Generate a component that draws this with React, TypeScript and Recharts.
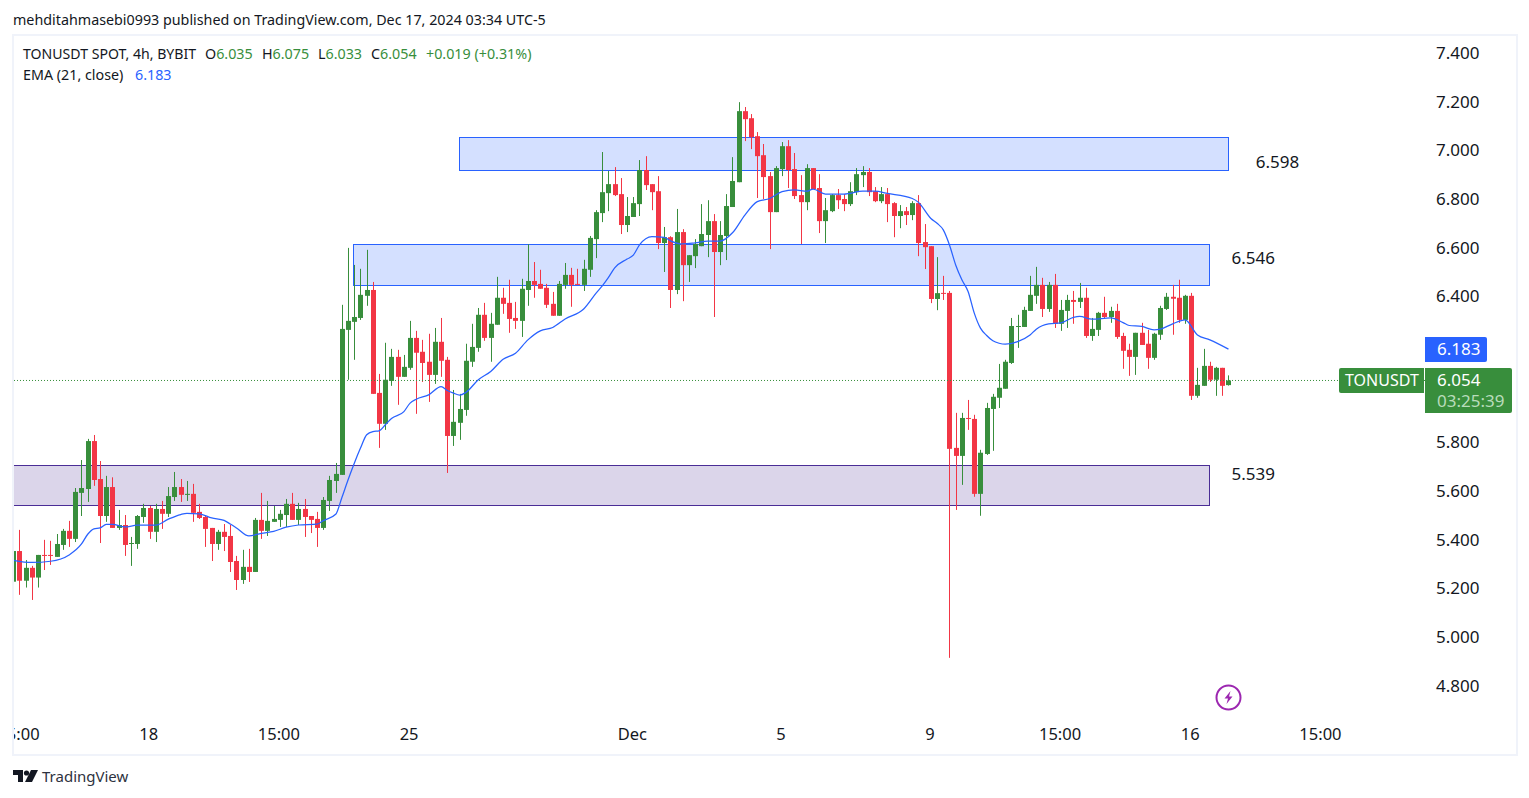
import { ComposedChart, Bar, Line, XAxis, YAxis, ReferenceArea, ReferenceLine, ReferenceDot } from 'recharts'

const FONT = '"Noto Sans", sans-serif'
const UP = '#388e3c'
const DOWN = '#f23645'
const BLUE = '#2962ff'
const PURPLE = '#4a2d96'

const opens = [
  5.227, 5.353, 5.231, 5.284, 5.244, 5.337, 5.337, 5.329, 5.378, 5.436,
  5.403, 5.592, 5.608, 5.805, 5.649, 5.497, 5.616, 5.448, 5.460, 5.384,
  5.382, 5.493, 5.530, 5.432, 5.526, 5.506, 5.575, 5.616, 5.584, 5.588,
  5.514, 5.493, 5.448, 5.382, 5.432, 5.415, 5.312, 5.234, 5.288, 5.267,
  5.481, 5.436, 5.473, 5.481, 5.501, 5.547, 5.481, 5.526, 5.497, 5.485,
  5.448, 5.559, 5.641, 5.666, 6.262, 6.295, 6.311, 6.402, 6.426, 6.003,
  5.876, 6.052, 6.151, 6.069, 6.106, 6.229, 6.172, 6.131, 6.077, 6.213,
  6.139, 5.826, 5.880, 5.933, 6.131, 6.188, 6.324, 6.229, 6.283, 6.394,
  6.373, 6.311, 6.299, 6.426, 6.463, 6.451, 6.435, 6.369, 6.320, 6.447,
  6.488, 6.451, 6.447, 6.509, 6.635, 6.742, 6.824, 6.861, 6.820, 6.693,
  6.726, 6.779, 6.919, 6.861, 6.832, 6.619, 6.643, 6.426, 6.664, 6.528,
  6.565, 6.606, 6.652, 6.709, 6.582, 6.648, 6.767, 6.869, 7.161, 7.132,
  7.058, 6.980, 6.894, 6.746, 6.923, 7.017, 6.923, 6.816, 6.787, 6.927,
  6.845, 6.709, 6.750, 6.816, 6.800, 6.779, 6.828, 6.898, 6.911, 6.832,
  6.791, 6.820, 6.783, 6.730, 6.750, 6.734, 6.783, 6.623, 6.606, 6.389,
  6.414, 6.414, 5.777, 5.744, 5.900, 5.896, 5.588, 5.752, 5.937, 5.983,
  6.020, 6.126, 6.274, 6.274, 6.340, 6.402, 6.447, 6.348, 6.447, 6.287,
  6.340, 6.385, 6.377, 6.394, 6.237, 6.262, 6.332, 6.315, 6.340, 6.237,
  6.180, 6.151, 6.250, 6.205, 6.147, 6.242, 6.348, 6.398, 6.394, 6.303,
  6.402, 5.991, 6.032, 6.114, 6.057, 6.106, 6.035,
]
const highs = [
  5.353, 5.440, 5.316, 5.292, 5.337, 5.399, 5.395, 5.423, 5.444, 5.477,
  5.612, 5.727, 5.814, 5.830, 5.723, 5.662, 5.656, 5.522, 5.501, 5.411,
  5.501, 5.547, 5.538, 5.547, 5.559, 5.616, 5.678, 5.649, 5.641, 5.629,
  5.547, 5.501, 5.448, 5.440, 5.464, 5.460, 5.333, 5.358, 5.362, 5.489,
  5.592, 5.559, 5.538, 5.522, 5.567, 5.592, 5.551, 5.567, 5.497, 5.514,
  5.575, 5.662, 5.715, 6.365, 6.599, 6.529, 6.513, 6.591, 6.459, 6.081,
  6.209, 6.184, 6.180, 6.159, 6.299, 6.258, 6.221, 6.246, 6.270, 6.311,
  6.151, 6.015, 5.999, 6.205, 6.287, 6.352, 6.373, 6.332, 6.480, 6.435,
  6.468, 6.377, 6.472, 6.614, 6.541, 6.509, 6.451, 6.418, 6.463, 6.537,
  6.517, 6.513, 6.550, 6.648, 6.754, 6.993, 6.915, 6.931, 6.886, 6.808,
  6.808, 6.960, 6.976, 6.861, 6.894, 6.685, 6.647, 6.759, 6.676, 6.569,
  6.635, 6.779, 6.795, 6.738, 6.709, 6.820, 6.972, 7.198, 7.178, 7.149,
  7.075, 7.026, 6.911, 6.935, 7.034, 7.042, 6.989, 6.898, 6.943, 6.927,
  6.902, 6.804, 6.820, 6.841, 6.820, 6.869, 6.927, 6.935, 6.927, 6.849,
  6.849, 6.845, 6.787, 6.775, 6.767, 6.791, 6.816, 6.697, 6.606, 6.561,
  6.484, 6.422, 5.921, 5.921, 5.974, 5.913, 5.769, 5.962, 5.999, 6.122,
  6.139, 6.311, 6.324, 6.357, 6.484, 6.521, 6.476, 6.459, 6.492, 6.385,
  6.406, 6.422, 6.455, 6.435, 6.311, 6.336, 6.398, 6.357, 6.369, 6.250,
  6.205, 6.250, 6.291, 6.262, 6.250, 6.361, 6.414, 6.447, 6.468, 6.406,
  6.414, 6.106, 6.184, 6.131, 6.110, 6.106, 6.075,
]
const lows = [
  5.227, 5.173, 5.203, 5.152, 5.203, 5.275, 5.296, 5.329, 5.358, 5.370,
  5.390, 5.497, 5.555, 5.621, 5.386, 5.473, 5.448, 5.440, 5.333, 5.292,
  5.362, 5.469, 5.403, 5.390, 5.444, 5.493, 5.559, 5.555, 5.559, 5.473,
  5.485, 5.370, 5.312, 5.358, 5.353, 5.267, 5.193, 5.218, 5.226, 5.267,
  5.403, 5.415, 5.473, 5.452, 5.452, 5.481, 5.460, 5.411, 5.427, 5.370,
  5.440, 5.518, 5.592, 5.666, 6.057, 6.139, 6.303, 6.361, 5.999, 5.777,
  5.851, 6.032, 5.954, 6.069, 6.098, 5.917, 6.048, 5.966, 6.040, 6.069,
  5.674, 5.785, 5.810, 5.909, 6.110, 6.172, 6.217, 6.131, 6.283, 6.328,
  6.250, 6.266, 6.233, 6.361, 6.394, 6.431, 6.352, 6.320, 6.320, 6.431,
  6.357, 6.447, 6.422, 6.480, 6.557, 6.705, 6.750, 6.812, 6.656, 6.664,
  6.726, 6.730, 6.837, 6.754, 6.594, 6.500, 6.352, 6.409, 6.380, 6.459,
  6.516, 6.606, 6.561, 6.315, 6.528, 6.549, 6.767, 6.869, 7.038, 7.005,
  6.804, 6.800, 6.594, 6.746, 6.894, 6.845, 6.800, 6.615, 6.754, 6.841,
  6.660, 6.619, 6.746, 6.759, 6.750, 6.771, 6.816, 6.849, 6.812, 6.787,
  6.783, 6.705, 6.643, 6.680, 6.693, 6.713, 6.565, 6.512, 6.372, 6.343,
  6.385, 4.914, 5.522, 5.625, 5.851, 5.576, 5.498, 5.748, 5.765, 5.941,
  6.020, 6.122, 6.188, 6.274, 6.340, 6.369, 6.315, 6.336, 6.270, 6.258,
  6.270, 6.287, 6.352, 6.229, 6.217, 6.237, 6.307, 6.291, 6.225, 6.102,
  6.073, 6.077, 6.200, 6.102, 6.139, 6.221, 6.344, 6.242, 6.291, 6.287,
  5.974, 5.983, 6.032, 6.048, 5.991, 5.991, 6.033,
]
const closes = [
  5.353, 5.231, 5.284, 5.244, 5.337, 5.334, 5.334, 5.382, 5.436, 5.403,
  5.596, 5.612, 5.805, 5.645, 5.497, 5.616, 5.448, 5.460, 5.378, 5.386,
  5.497, 5.530, 5.432, 5.526, 5.506, 5.579, 5.616, 5.584, 5.588, 5.510,
  5.489, 5.444, 5.382, 5.432, 5.411, 5.308, 5.234, 5.288, 5.267, 5.481,
  5.436, 5.477, 5.485, 5.506, 5.547, 5.481, 5.526, 5.493, 5.481, 5.448,
  5.563, 5.645, 5.670, 6.266, 6.299, 6.315, 6.406, 6.426, 5.999, 5.876,
  6.057, 6.151, 6.069, 6.110, 6.229, 6.168, 6.126, 6.077, 6.213, 6.135,
  5.826, 5.884, 5.937, 6.135, 6.192, 6.324, 6.229, 6.287, 6.394, 6.369,
  6.307, 6.299, 6.431, 6.463, 6.447, 6.431, 6.365, 6.320, 6.451, 6.488,
  6.447, 6.447, 6.513, 6.640, 6.746, 6.828, 6.861, 6.816, 6.693, 6.730,
  6.783, 6.919, 6.857, 6.828, 6.619, 6.643, 6.426, 6.664, 6.528, 6.569,
  6.615, 6.656, 6.709, 6.582, 6.652, 6.771, 6.874, 7.161, 7.128, 7.054,
  6.976, 6.890, 6.746, 6.927, 7.017, 6.919, 6.812, 6.787, 6.927, 6.841,
  6.709, 6.754, 6.816, 6.795, 6.779, 6.832, 6.902, 6.911, 6.828, 6.791,
  6.820, 6.779, 6.730, 6.750, 6.734, 6.783, 6.619, 6.602, 6.389, 6.413,
  6.411, 5.773, 5.744, 5.900, 5.896, 5.588, 5.757, 5.941, 5.987, 6.024,
  6.131, 6.278, 6.278, 6.344, 6.406, 6.447, 6.348, 6.447, 6.287, 6.344,
  6.385, 6.377, 6.394, 6.237, 6.266, 6.332, 6.315, 6.340, 6.233, 6.176,
  6.151, 6.250, 6.200, 6.147, 6.246, 6.352, 6.398, 6.390, 6.303, 6.402,
  5.991, 6.036, 6.114, 6.057, 6.106, 6.032, 6.054,
]

// EMA at these candles, the line runs between them
const emaCandles = [
  0, 3, 6, 9, 11, 12, 13, 14, 15, 16, 18, 20, 23, 25, 27, 28, 30, 32, 34, 35, 36, 38, 40, 42, 44, 46, 49, 50, 52, 53,
  54, 55, 56, 57, 58, 59, 60, 61, 63, 64, 65, 67, 69, 70, 71, 72, 73, 75, 77, 79, 81, 83, 85, 87, 89, 92, 94,
  95, 96, 97, 99, 100, 101, 103, 105, 106, 108, 110, 112, 114, 116, 118, 120, 122, 124, 126, 128, 129, 131, 134, 137, 139, 141, 145, 146, 148, 149,
  150, 151, 152, 153, 154, 155, 156, 157, 158, 159, 160, 162, 164, 165, 167, 169, 171, 172, 174, 177, 179, 180, 182, 184, 185, 187, 189, 191, 193, 196,
]
const emaValues = [
  5.315, 5.306, 5.311, 5.337, 5.382, 5.422, 5.444, 5.448, 5.463, 5.463, 5.452, 5.459, 5.460, 5.484, 5.503, 5.508, 5.506, 5.489, 5.479, 5.464, 5.448, 5.415, 5.426, 5.434, 5.451, 5.460, 5.464, 5.478, 5.504, 5.573,
  5.646, 5.714, 5.776, 5.831, 5.844, 5.847, 5.872, 5.898, 5.926, 5.961, 5.977, 5.995, 6.029, 6.013, 6.002, 5.994, 6.005, 6.057, 6.091, 6.141, 6.166, 6.221, 6.258, 6.272, 6.307, 6.348, 6.413,
  6.443, 6.478, 6.517, 6.553, 6.569, 6.611, 6.645, 6.642, 6.628, 6.615, 6.620, 6.627, 6.627, 6.661, 6.734, 6.789, 6.802, 6.830, 6.837, 6.832, 6.841, 6.820, 6.820, 6.832, 6.832, 6.823, 6.802, 6.786, 6.720, 6.700,
  6.673, 6.611, 6.529, 6.468, 6.420, 6.331, 6.269, 6.239, 6.217, 6.207, 6.203, 6.214, 6.241, 6.265, 6.287, 6.291, 6.313, 6.317, 6.306, 6.311, 6.292, 6.280, 6.276, 6.262, 6.265, 6.287, 6.303, 6.241, 6.221, 6.183,
]

// 6.000 and 6.200 sit under the price tags, so they are not drawn
const priceTicks = [4.8, 5, 5.2, 5.4, 5.6, 5.8, 6.4, 6.6, 6.8, 7, 7.2, 7.4]
const timeTickCandles = [1, 22, 43, 64, 100, 124, 148, 169, 190, 211]
const timeTickLabels = ['15:00', '18', '15:00', '25', 'Dec', '5', '9', '15:00', '16', '15:00']

const lastPrice = 6.054

const table = opens.map((open, i) => {
  const at = emaCandles.indexOf(i)
  return {
    i,
    open,
    high: highs[i],
    low: lows[i],
    close: closes[i],
    range: [lows[i], highs[i]],
    ema: at >= 0 ? emaValues[at] : null,
  }
})

function Candle(props: any) {
  const { x, y, width, height, payload } = props
  const top = Math.min(y, y + height)
  const h = Math.abs(height)
  const perPrice = h / (payload.high - payload.low || 1)
  const bodyTop = top + (payload.high - Math.max(payload.open, payload.close)) * perPrice
  const bodyH = Math.max(1, Math.abs(payload.open - payload.close) * perPrice)
  const color = payload.close >= payload.open ? UP : DOWN
  const left = Math.round(x)
  return (
    <g>
      <rect x={left + 2} y={top} width={1} height={h} fill={color} />
      <rect x={left} y={bodyTop} width={width} height={bodyH} fill={color} />
    </g>
  )
}

function Txt({ x, y, color = '#131722', size = 14.3, children }: any) {
  return (
    <div style={{ position: 'absolute', left: x, top: y, color, fontSize: size, fontFamily: FONT, lineHeight: '20px', whiteSpace: 'nowrap' }}>
      {children}
    </div>
  )
}

const zoneLabel = (value: string) => ({ value, fill: '#131722', fontSize: 17, fontFamily: FONT })

export default function App() {
  return (
    <div style={{ position: 'absolute', left: 0, top: 0, width: 1529, height: 798, background: '#fff', overflow: 'hidden' }}>
      <div style={{ position: 'absolute', left: 0, top: 0 }}>
        <ComposedChart width={1529} height={798} data={table} margin={{ top: 35, right: 14, bottom: 45, left: 13 }}>
          <XAxis
            dataKey="i"
            type="number"
            domain={[-0.05, 227.7]}
            allowDataOverflow
            ticks={timeTickCandles}
            interval={0}
            tickFormatter={(v: number) => timeTickLabels[timeTickCandles.indexOf(v)]}
            tick={{ fontSize: 16.5, fill: '#131722', fontFamily: FONT, dx: -1 }}
            tickLine={false}
            axisLine={false}
            height={40}
            tickMargin={9}
          />
          <YAxis
            orientation="right"
            domain={[4.6873, 7.474]}
            allowDataOverflow
            ticks={priceTicks}
            interval={0}
            tickFormatter={(v: number) => v.toFixed(3)}
            tick={{ fontSize: 17, fill: '#131722', fontFamily: FONT }}
            tickLine={false}
            axisLine={false}
            width={90}
            tickMargin={5}
          />
          <ReferenceArea x1={71.9} x2={195.95} y1={6.917} y2={7.054} fill={BLUE} fillOpacity={0.2} stroke={BLUE} strokeOpacity={1} shapeRendering="crispEdges" />
          <ReferenceArea x1={54.85} x2={192.9} y1={6.4444} y2={6.613} fill={BLUE} fillOpacity={0.2} stroke={BLUE} strokeOpacity={1} shapeRendering="crispEdges" />
          <ReferenceArea x1={-0.15} x2={192.9} y1={5.5422} y2={5.7066} fill={PURPLE} fillOpacity={0.2} stroke={PURPLE} strokeOpacity={1} shapeRendering="crispEdges" ifOverflow="visible" />
          <ReferenceLine y={lastPrice} stroke={UP} strokeDasharray="1 2" />
          <Bar dataKey="range" barSize={5} shape={Candle} isAnimationActive={false} />
          <Line dataKey="ema" type="monotone" connectNulls dot={false} stroke={BLUE} strokeWidth={1.25} isAnimationActive={false} />
          <ReferenceDot x={203.9} y={6.953} r={0} fill="none" stroke="none" label={zoneLabel('6.598')} />
          <ReferenceDot x={200} y={6.558} r={0} fill="none" stroke="none" label={zoneLabel('6.546')} />
          <ReferenceDot x={200} y={5.669} r={0} fill="none" stroke="none" label={zoneLabel('5.539')} />
        </ComposedChart>
      </div>

      {/* the first time label is cut by the pane edge */}
      <div style={{ position: 'absolute', left: 0, top: 400, width: 12, height: 350, background: '#fff' }} />
      <div style={{ position: 'absolute', left: 12, top: 34, width: 1502, height: 718, border: '2px solid #f0f3fa' }} />

      <Txt x={13} y={10}>mehditahmasebi0993 published on TradingView.com, Dec 17, 2024 03:34 UTC-5</Txt>
      <Txt x={23} y={44} size={14.1}>TONUSDT SPOT, 4h, BYBIT</Txt>
      <Txt x={205} y={44}>O<span style={{ color: UP }}>6.035</span></Txt>
      <Txt x={262} y={44}>H<span style={{ color: UP }}>6.075</span></Txt>
      <Txt x={318} y={44}>L<span style={{ color: UP }}>6.033</span></Txt>
      <Txt x={371} y={44}>C<span style={{ color: UP }}>6.054</span></Txt>
      <Txt x={426} y={44} color={UP}>+0.019 (+0.31%)</Txt>
      <Txt x={23} y={65}>EMA (21, close)</Txt>
      <Txt x={135} y={65} color={BLUE}>6.183</Txt>

      <div style={{ position: 'absolute', left: 1425, top: 337, width: 62, height: 25, background: BLUE, borderRadius: '0 2px 2px 0' }} />
      <Txt x={1437} y={339} color="#fff" size={17}>6.183</Txt>
      <div style={{ position: 'absolute', left: 1339, top: 368, width: 85, height: 25, background: UP, borderRadius: '2px 0 0 2px' }} />
      <Txt x={1345} y={370} color="#fff" size={16}>TONUSDT</Txt>
      <div style={{ position: 'absolute', left: 1425, top: 368, width: 87, height: 45, background: UP, borderRadius: '0 2px 2px 0' }} />
      <Txt x={1437} y={370} color="#fff" size={17}>6.054</Txt>
      <Txt x={1437} y={391} color="#b9dcbb" size={17}>03:25:39</Txt>

      <svg style={{ position: 'absolute', left: 1215, top: 684 }} width={27} height={27}>
        <circle cx={13.5} cy={13.5} r={12} fill="none" stroke="#9c27b0" strokeWidth={2} />
        <path d="M15.5 7 L9.5 14.5 H13 L11.5 20 L17.5 12.5 H14 Z" fill="#9c27b0" />
      </svg>

      <svg style={{ position: 'absolute', left: 13, top: 770 }} width={25} height={13}>
        <path d="M0 0 H10 V12 H5 V5 H0 Z" fill="#131722" />
        <circle cx={13.5} cy={3} r={2.6} fill="#131722" />
        <path d="M18 0 H25 L19 12 H12 Z" fill="#131722" />
      </svg>
      <Txt x={42} y={766} color="#2e3240" size={15}>TradingView</Txt>
    </div>
  )
}
